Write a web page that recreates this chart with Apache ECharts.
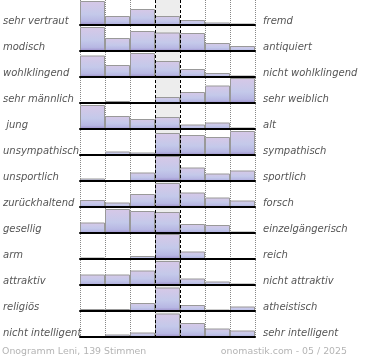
<!DOCTYPE html>
<html><head><meta charset="utf-8">
<script src="https://cdn.jsdelivr.net/npm/echarts@6/dist/echarts.min.js"></script>
<style>html,body{margin:0;padding:0;background:#fff}#c{width:370px;height:360px}</style>
</head><body><div id="c"></div>
<script>
const categories = ['1','2','3','4','5','6','7'];
const leftLabels = ['sehr vertraut','modisch','wohlklingend','sehr männlich',' jung','unsympathisch','unsportlich','zurückhaltend','gesellig','arm','attraktiv','religiös','nicht intelligent'];
const rightLabels = ['fremd','antiquiert','nicht wohlklingend','sehr weiblich','alt','sympathisch','sportlich','forsch','einzelgängerisch','reich','nicht attraktiv','atheistisch','sehr intelligent'];

const vertraut      = [24, 9, 16, 9, 5, 2.5, 1.5];
const modisch       = [24, 13, 20, 18.5, 18, 8, 5];
const wohlklingend  = [21.5, 12, 24, 16, 8, 4, 1.5];
const maennlich     = [0, 2, 0, 6, 11, 17.5, 25];
const jung          = [24, 13, 10, 12, 4.5, 6.5, 1.5];
const sympathisch   = [0, 3.5, 2.5, 22, 20, 18, 24];
const sportlich     = [2.5, 0, 8.5, 25, 13.5, 7.5, 10.5];
const forsch        = [7, 4.5, 13, 24, 14.5, 9.5, 6.5];
const gesellig      = [10.5, 24, 22, 21, 9, 8, 1.5];
const reich         = [1.5, 0.5, 3, 25, 7.5, 0, 0];
const attraktiv     = [10.5, 10.5, 14.5, 24, 6.5, 3.5, 1.5];
const religioes     = [2, 2, 8, 23.5, 6, 1.5, 4.5];
const intelligent   = [0, 2.5, 4.5, 23.5, 14, 8.5, 6.5];
const rowValues = [vertraut, modisch, wohlklingend, maennlich, jung, sympathisch, sportlich, forsch, gesellig, reich, attraktiv, religioes, intelligent];

const footerLeft = 'Onogramm Leni, 139 Stimmen';
const footerRight = 'onomastik.com - 05 / 2025';

const FONT = 'DejaVu Sans';
const ROW = 26, LEFT = 80, WIDTH = 175, N = rowValues.length;

const grid = [], xAxis = [], yAxis = [], series = [];
const barColor = new echarts.graphic.LinearGradient(0, 0, 0, 1, [
  {offset: 0, color: '#d7c8e7'},
  {offset: 0.55, color: '#c4c9ea'},
  {offset: 0.85, color: '#b7b7e3'},
  {offset: 1, color: '#9d90cb'}
]);

rowValues.forEach((vals, i) => {
  grid.push({left: LEFT, width: WIDTH, top: ROW * i, height: 25});
  xAxis.push({type: 'category', gridIndex: i, data: categories, boundaryGap: true, z: 5,
    axisLine: {show: true, lineStyle: {color: '#000', width: 2}},
    axisTick: {show: false}, axisLabel: {show: false}, splitLine: {show: false}});
  yAxis.push({type: 'value', gridIndex: i, min: 0, max: 25, show: false});
  series.push({type: 'bar', xAxisIndex: i, yAxisIndex: i, barCategoryGap: 0, silent: true,
    data: vals.map(v => v === 0 ? null : v),
    itemStyle: {color: barColor, borderColor: '#999', borderWidth: 1}});
});

// full-height decoration grid (column lines + shaded middle column)
const G = N;
grid.push({left: LEFT, width: WIDTH, top: 0, height: ROW * N - 1});
const dotted = categories.map(() => '#888').concat(['#888']);
dotted[3] = 'rgba(0,0,0,0)'; dotted[4] = 'rgba(0,0,0,0)';
const dashed = dotted.map((c, k) => (k === 3 || k === 4) ? '#000' : 'rgba(0,0,0,0)');
const areas = categories.map((c, k) => k === 3 ? '#ededed' : 'rgba(0,0,0,0)');
xAxis.push({type: 'value', gridIndex: G, min: 0, max: 7, interval: 1, z: 0,
  axisLine: {show: false}, axisTick: {show: false}, axisLabel: {show: false},
  splitLine: {show: true, showMinLine: true, showMaxLine: true, lineStyle: {color: dotted, type: 'dotted', width: 1}},
  splitArea: {show: true, areaStyle: {color: areas}}});
xAxis.push({type: 'value', gridIndex: G, min: 0, max: 7, interval: 1, z: 10,
  axisLine: {show: false}, axisTick: {show: false}, axisLabel: {show: false},
  splitLine: {show: true, showMinLine: true, showMaxLine: true, lineStyle: {color: dashed, type: [3, 2], width: 1}}});
yAxis.push({type: 'value', gridIndex: G, min: 0, max: 1, show: false});

// label grid
const L = N + 1;
grid.push({left: LEFT, width: WIDTH, top: 8, height: ROW * N});
xAxis.push({type: 'value', gridIndex: L, min: 0, max: 1, show: false});
const labelStyle = {fontFamily: FONT, fontStyle: 'italic', fontSize: 10, color: '#555'};
yAxis.push({type: 'category', gridIndex: L, position: 'left', inverse: true, data: leftLabels,
  axisLine: {show: false}, axisTick: {show: false}, splitLine: {show: false},
  axisLabel: Object.assign({align: 'left', margin: 81, interval: 0}, labelStyle)});
yAxis.push({type: 'category', gridIndex: L, position: 'right', inverse: true, data: rightLabels,
  axisLine: {show: false}, axisTick: {show: false}, splitLine: {show: false},
  axisLabel: Object.assign({align: 'left', margin: 8, interval: 0}, labelStyle)});

const footStyle = {fontFamily: FONT, fontSize: 9.4, fontWeight: 'normal', color: '#b4b4b4'};
const option = {
  animation: false,
  title: [
    {text: footerLeft, left: 2, top: 347, padding: 0, textStyle: footStyle},
    {text: footerRight, right: 23, top: 347, padding: 0, textStyle: footStyle}
  ],
  grid, xAxis, yAxis, series
};
echarts.init(document.getElementById('c'), null, {renderer: 'canvas'}).setOption(option);
</script></body></html>
